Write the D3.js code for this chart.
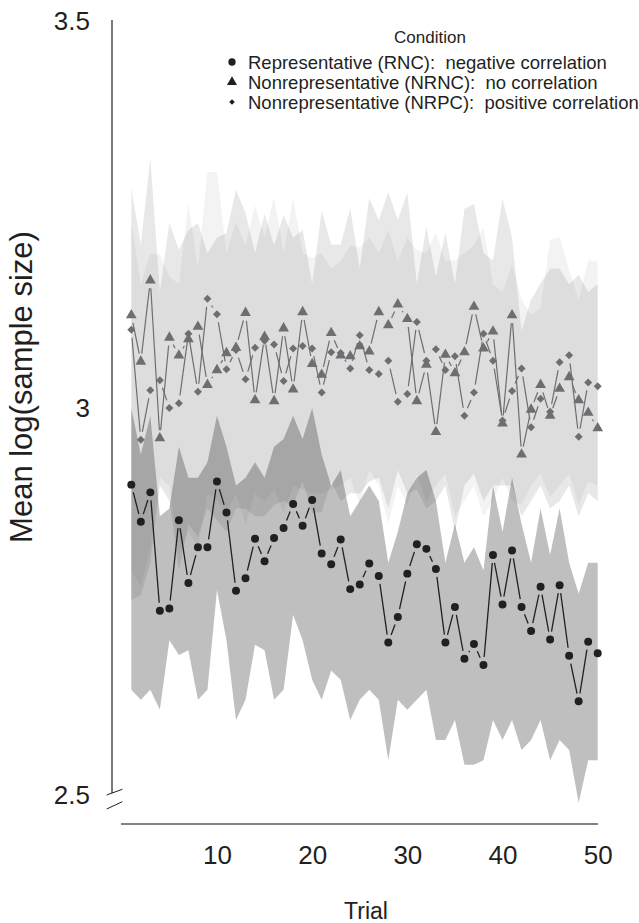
<!DOCTYPE html>
<html lang="en">
  <head>
    <meta charset="UTF-8" />
    <script src="https://d3js.org/d3.v7.min.js"></script>
    <title>Mean log(sample size) by trial</title>
    <style>
      body { margin: 0; background: #fff; }
      svg text { font-family: "Liberation Sans", Arial, Helvetica, sans-serif; fill: #231f20; }
    </style>
  </head>
  <body>
    <script>
      /*------------------------- data -------------------------*/
      const trials = d3.range(1, 51);

      // Representative (RNC): negative correlation
      const rnc = [2.901, 2.853, 2.891, 2.738, 2.741, 2.855, 2.774, 2.820, 2.820, 2.905,
                   2.865, 2.764, 2.780, 2.831, 2.802, 2.832, 2.845, 2.876, 2.848, 2.881,
                   2.812, 2.798, 2.830, 2.766, 2.772, 2.799, 2.783, 2.697, 2.730, 2.786,
                   2.824, 2.818, 2.792, 2.697, 2.743, 2.676, 2.695, 2.668, 2.810, 2.746,
                   2.816, 2.743, 2.712, 2.769, 2.701, 2.771, 2.680, 2.621, 2.698, 2.683];
      // Nonrepresentative (NRNC): no correlation
      const nrnc = [3.120, 3.060, 3.165, 2.961, 3.091, 3.068, 3.089, 3.105, 3.030, 3.049,
                    3.071, 3.078, 3.123, 3.010, 3.092, 3.009, 3.103, 3.024, 3.124, 3.057,
                    3.043, 3.097, 3.068, 3.067, 3.080, 3.073, 3.124, 3.107, 3.134, 3.115,
                    3.009, 3.056, 2.969, 3.069, 3.045, 3.072, 3.131, 3.077, 3.099, 2.980,
                    3.120, 2.940, 2.998, 3.030, 2.990, 3.025, 3.040, 3.010, 2.994, 2.974];
      // Nonrepresentative (NRPC): positive correlation
      const nrpc = [3.101, 2.959, 3.023, 3.036, 3.000, 3.006, 3.096, 3.021, 3.141, 3.121,
                    3.050, 3.075, 3.037, 3.078, 3.087, 3.082, 3.035, 3.077, 3.080, 3.077,
                    3.020, 3.072, 3.071, 3.051, 3.094, 3.049, 3.044, 3.061, 3.008, 3.018,
                    3.111, 3.061, 3.076, 3.049, 3.067, 2.990, 3.020, 3.096, 3.061, 2.984,
                    3.022, 3.051, 2.975, 3.012, 2.995, 3.059, 3.068, 2.963, 3.033, 3.028];

      // shaded ranges
      const rncHi = [3.000, 2.940, 2.990, 2.860, 2.870, 2.950, 2.910, 2.910, 2.930, 2.990,
                     2.950, 2.900, 2.910, 2.930, 2.910, 2.950, 2.960, 2.990, 2.960, 3.000,
                     2.940, 2.900, 2.920, 2.860, 2.880, 2.900, 2.880, 2.800, 2.840, 2.890,
                     2.910, 2.920, 2.880, 2.800, 2.850, 2.800, 2.820, 2.790, 2.900, 2.840,
                     2.910, 2.850, 2.800, 2.870, 2.810, 2.870, 2.800, 2.760, 2.800, 2.800];
      const rncLo = [2.636, 2.623, 2.636, 2.610, 2.700, 2.681, 2.687, 2.623, 2.636, 2.765,
                     2.700, 2.597, 2.623, 2.694, 2.687, 2.623, 2.636, 2.733, 2.700, 2.649,
                     2.623, 2.661, 2.649, 2.597, 2.623, 2.636, 2.623, 2.545, 2.623, 2.610,
                     2.623, 2.636, 2.571, 2.571, 2.597, 2.539, 2.539, 2.545, 2.597, 2.571,
                     2.597, 2.558, 2.571, 2.597, 2.545, 2.571, 2.558, 2.490, 2.545, 2.545];
      const nrncHi = [3.284, 3.211, 3.323, 3.150, 3.239, 3.204, 3.230, 3.239, 3.200, 3.220,
                      3.226, 3.282, 3.252, 3.200, 3.251, 3.210, 3.249, 3.220, 3.230, 3.160,
                      3.255, 3.211, 3.211, 3.258, 3.180, 3.271, 3.243, 3.279, 3.243, 3.278,
                      3.160, 3.234, 3.170, 3.226, 3.160, 3.257, 3.264, 3.200, 3.191, 3.270,
                      3.220, 3.100, 3.140, 3.161, 3.180, 3.180, 3.160, 3.172, 3.150, 3.160];
      const nrncLo = [2.752, 2.758, 2.800, 2.900, 2.880, 2.790, 2.850, 2.834, 2.870, 2.855,
                      2.840, 2.870, 2.870, 2.860, 2.860, 2.875, 2.880, 2.875, 2.905, 2.865,
                      2.865, 2.905, 2.880, 2.890, 2.890, 2.905, 2.910, 2.870, 2.920, 2.890,
                      2.895, 2.870, 2.880, 2.900, 2.840, 2.900, 2.915, 2.880, 2.900, 2.900,
                      2.900, 2.860, 2.880, 2.900, 2.870, 2.880, 2.900, 2.860, 2.890, 2.880];
      const nrpcLo = [2.790, 2.770, 2.820, 2.910, 2.900, 2.810, 2.840, 2.820, 2.890, 2.880,
                      2.865, 2.890, 2.850, 2.890, 2.880, 2.895, 2.865, 2.900, 2.895, 2.890,
                      2.890, 2.895, 2.900, 2.910, 2.875, 2.920, 2.900, 2.850, 2.900, 2.875,
                      2.915, 2.880, 2.900, 2.915, 2.860, 2.880, 2.900, 2.860, 2.880, 2.910,
                      2.880, 2.875, 2.900, 2.915, 2.885, 2.900, 2.915, 2.875, 2.905, 2.900];
      const nrpcHi = [3.240, 3.160, 3.200, 3.198, 3.170, 3.160, 3.265, 3.180, 3.305, 3.305,
                      3.200, 3.240, 3.210, 3.262, 3.220, 3.273, 3.200, 3.271, 3.200, 3.194,
                      3.200, 3.180, 3.190, 3.210, 3.207, 3.220, 3.200, 3.230, 3.190, 3.220,
                      3.204, 3.200, 3.226, 3.190, 3.191, 3.200, 3.210, 3.233, 3.160, 3.150,
                      3.185, 3.140, 3.120, 3.130, 3.217, 3.221, 3.178, 3.140, 3.191, 3.189];

      const yTicks = [2.5, 3, 3.5];
      const xTicks = [10, 20, 30, 40, 50];
      const legendLabels = [
        "Representative (RNC):  negative correlation",
        "Nonrepresentative (NRNC):  no correlation",
        "Nonrepresentative (NRPC):  positive correlation",
      ];

      /*------------------------ layout ------------------------*/
      const width = 639, height = 923;
      const x = d3.scaleLinear().domain([1, 50]).range([131.3, 597.7]);
      const y = d3.scaleLinear().domain([2.5, 3.5]).range([795, 21]);

      const svg = d3.select("body").append("svg")
        .attr("width", width).attr("height", height);

      /*------------------------ bands -------------------------*/
      const band = (lo, hi) => d3.area()
        .x((d, i) => x(trials[i]))
        .y0((d, i) => y(lo[i]))
        .y1((d, i) => y(hi[i]));

      const bands = [
        { lo: rncLo, hi: rncHi, op: 0.29 },
        { lo: nrncLo, hi: nrncHi, op: 0.1 },
        { lo: nrpcLo, hi: nrpcHi, op: 0.055 },
      ];
      bands.forEach(b => {
        svg.append("path")
          .attr("d", band(b.lo, b.hi)(trials))
          .attr("fill", "#222")
          .attr("fill-opacity", b.op);
      });

      /*------------------- lines with gaps --------------------*/
      function gapLines(vals, color, w) {
        const gap = 8;
        const g = svg.append("g").attr("stroke", color).attr("stroke-width", w);
        for (let i = 0; i < vals.length - 1; i++) {
          const x1 = x(trials[i]), y1 = y(vals[i]);
          const x2 = x(trials[i + 1]), y2 = y(vals[i + 1]);
          const len = Math.hypot(x2 - x1, y2 - y1);
          if (len <= 2 * gap + 1) continue;
          const ux = (x2 - x1) / len, uy = (y2 - y1) / len;
          g.append("line")
            .attr("x1", x1 + ux * gap).attr("y1", y1 + uy * gap)
            .attr("x2", x2 - ux * gap).attr("y2", y2 - uy * gap);
        }
      }
      gapLines(nrnc, "#6d6e71", 1.2);
      gapLines(nrpc, "#6d6e71", 1.2);
      gapLines(rnc, "#231f20", 1.3);

      /*------------------------ markers -----------------------*/
      const circle = d3.symbol().type(d3.symbolCircle).size(50);
      const tri = d3.symbol().type(d3.symbolTriangle).size(50);
      const diamond = d3.symbol().type(d3.symbolSquare).size(32);

      svg.append("g").selectAll("path").data(nrpc).join("path")
        .attr("d", diamond())
        .attr("transform", (d, i) => `translate(${x(trials[i])},${y(d)}) rotate(45)`)
        .attr("fill", "#6d6e71");
      svg.append("g").selectAll("path").data(nrnc).join("path")
        .attr("d", tri())
        .attr("transform", (d, i) => `translate(${x(trials[i])},${y(d)})`)
        .attr("fill", "#6d6e71");
      svg.append("g").selectAll("path").data(rnc).join("path")
        .attr("d", circle())
        .attr("transform", (d, i) => `translate(${x(trials[i])},${y(d)})`)
        .attr("fill", "#231f20");

      /*------------------------- axes -------------------------*/
      const yAxis = svg.append("g")
        .attr("transform", "translate(112,0)")
        .call(d3.axisLeft(y).tickValues(yTicks).tickSize(0).tickPadding(22)
          .tickFormat(d3.format("")));
      yAxis.select(".domain").remove();
      yAxis.selectAll("text").style("font-size", "26px");

      svg.append("line")
        .attr("x1", 112).attr("x2", 112)
        .attr("y1", y(3.5) - 1).attr("y2", 793)
        .attr("stroke", "#231f20").attr("stroke-width", 1.2);
      // axis break
      svg.append("line").attr("x1", 106.7).attr("y1", 795).attr("x2", 122.3).attr("y2", 789.3)
        .attr("stroke", "#231f20").attr("stroke-width", 1);
      svg.append("line").attr("x1", 106.7).attr("y1", 809).attr("x2", 122.3).attr("y2", 801.7)
        .attr("stroke", "#231f20").attr("stroke-width", 1);

      const xAxis = svg.append("g")
        .attr("transform", "translate(0,824)")
        .call(d3.axisBottom(x).tickValues(xTicks).tickSize(0).tickPadding(22));
      xAxis.select(".domain").remove();
      xAxis.selectAll("text").style("font-size", "26px");
      svg.append("line")
        .attr("x1", 121).attr("x2", 598).attr("y1", 824).attr("y2", 824)
        .attr("stroke", "#58595b").attr("stroke-width", 1.5);

      svg.append("text")
        .attr("x", 366).attr("y", 919)
        .attr("text-anchor", "middle")
        .style("font-size", "23px")
        .text("Trial");

      svg.append("text")
        .attr("transform", "translate(31.5,387) rotate(-90)")
        .attr("text-anchor", "middle")
        .style("font-size", "31px")
        .text("Mean log(sample size)");

      /*------------------------ legend ------------------------*/
      const legend = svg.append("g");
      legend.append("text")
        .attr("x", 430).attr("y", 43)
        .attr("text-anchor", "middle")
        .style("font-size", "17px")
        .text("Condition");
      const legSyms = [
        d3.symbol().type(d3.symbolCircle).size(42)(),
        d3.symbol().type(d3.symbolTriangle).size(44)(),
        d3.symbol().type(d3.symbolSquare).size(16)(),
      ];
      legendLabels.forEach((lab, i) => {
        const ly = 62 + i * 20;
        legend.append("path")
          .attr("d", legSyms[i])
          .attr("transform", `translate(232,${ly})` + (i === 2 ? " rotate(45)" : ""))
          .attr("fill", "#231f20");
        legend.append("text")
          .attr("x", 248).attr("y", ly + 6.5)
          .style("font-size", "18.5px")
          .style("white-space", "pre")
          .text(lab);
      });
    </script>
  </body>
</html>
